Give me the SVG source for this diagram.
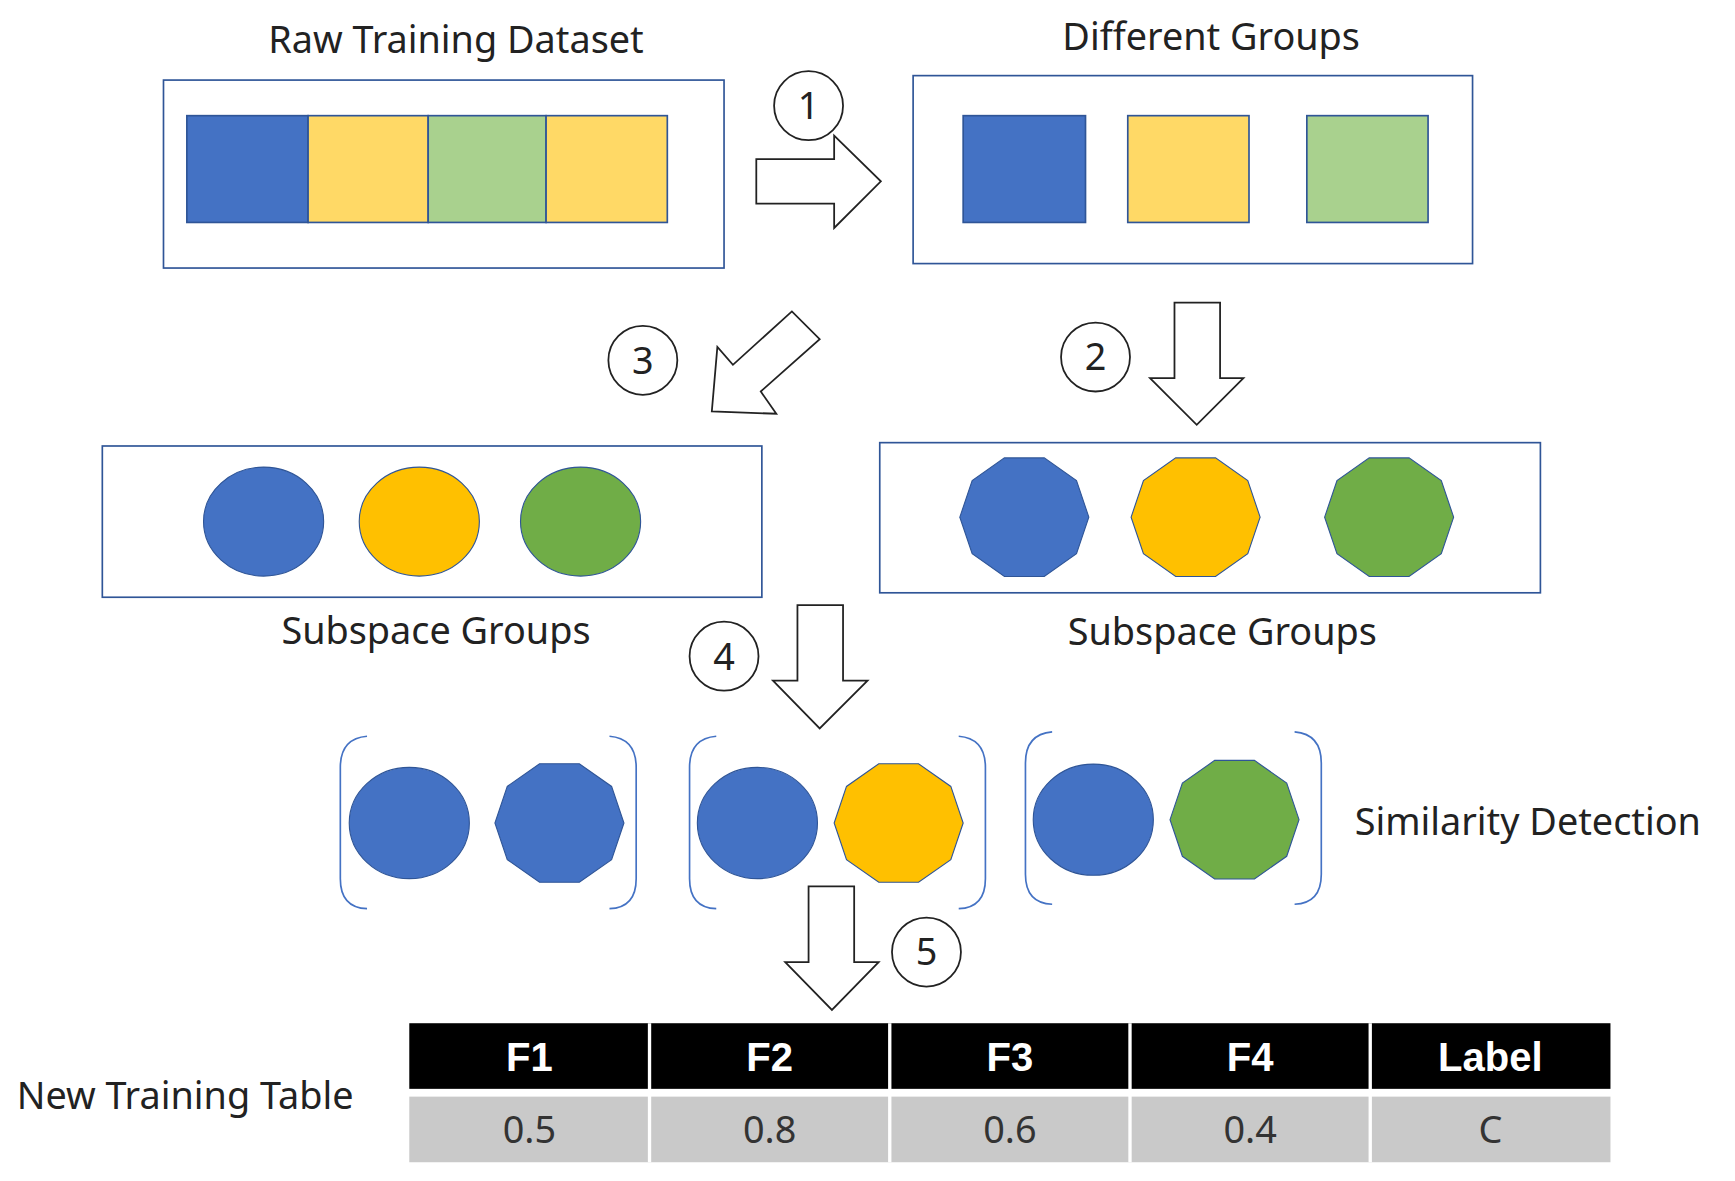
<svg xmlns="http://www.w3.org/2000/svg" xmlns:xlink="http://www.w3.org/1999/xlink" width="1735" height="1181" viewBox="0 0 1735 1181">
<style>
.t{font-family:"Noto Sans","Liberation Sans",sans-serif;font-size:34px;fill:#222}
.box{fill:#fff;stroke:#2F5597;stroke-width:1.5}
.sq{stroke:#2F5597;stroke-width:1.5}
.arr{fill:#fff;stroke:#222;stroke-width:1.6}
.num{fill:#fff;stroke:#222;stroke-width:1.6}
.br{fill:none;stroke:#4472C4;stroke-width:1.5}
.sh{stroke:#2F5597;stroke-width:1}
.hd{font-family:"Liberation Sans",sans-serif;font-size:36px;font-weight:bold;fill:#fff}
.vl{font-family:"Noto Sans","Liberation Sans",sans-serif;font-size:34px;fill:#333}
</style>
<defs>
<polygon id="dec" points="58,0 46.9,32.9 17.9,53.3 -17.9,53.3 -46.9,32.9 -58,0 -46.9,-32.9 -17.9,-53.3 17.9,-53.3 46.9,-32.9"/>
</defs>
<rect width="1735" height="1181" fill="#fff"/>
<g transform="scale(1.1122)">
<g id="raw">
<text class="t" x="410" y="48" text-anchor="middle">Raw Training Dataset</text>
<rect class="box" x="147" y="72" width="504" height="169"/>
<rect class="sq" x="168" y="104" width="109" height="96" fill="#4472C4"/>
<rect class="sq" x="277" y="104" width="108" height="96" fill="#FFD966"/>
<rect class="sq" x="385" y="104" width="106" height="96" fill="#A9D18E"/>
<rect class="sq" x="491" y="104" width="109" height="96" fill="#FFD966"/>
</g>
<g id="groups">
<text class="t" x="1089" y="45" text-anchor="middle">Different Groups</text>
<rect class="box" x="821" y="68" width="503" height="169"/>
<rect class="sq" x="866" y="104" width="110" height="96" fill="#4472C4"/>
<rect class="sq" x="1014" y="104" width="109" height="96" fill="#FFD966"/>
<rect class="sq" x="1175" y="104" width="109" height="96" fill="#A9D18E"/>
</g>
<g id="sub1">
<rect class="box" x="92" y="401" width="593" height="136"/>
<ellipse class="sh" cx="237" cy="469" rx="54" ry="49" fill="#4472C4"/>
<ellipse class="sh" cx="377" cy="469" rx="54" ry="49" fill="#FFC000"/>
<ellipse class="sh" cx="522" cy="469" rx="54" ry="49" fill="#70AD47"/>
<text class="t" x="392" y="579" text-anchor="middle">Subspace Groups</text>
</g>
<g id="sub2">
<rect class="box" x="791" y="398" width="594" height="135"/>
<use href="#dec" class="sh" x="921" y="465" fill="#4472C4"/>
<use href="#dec" class="sh" x="1075" y="465" fill="#FFC000"/>
<use href="#dec" class="sh" x="1249" y="465" fill="#70AD47"/>
<text class="t" x="1099" y="580" text-anchor="middle">Subspace Groups</text>
</g>
<g id="sim">
<path class="br" d="M330,662 Q306,664 306,690 L306,790 Q306,816 330,817"/>
<path class="br" d="M548,662 Q572,664 572,690 L572,790 Q572,816 548,817"/>
<ellipse class="sh" cx="368" cy="740" rx="54" ry="50" fill="#4472C4"/>
<use href="#dec" class="sh" x="503" y="740" fill="#4472C4"/>
<path class="br" d="M644,662 Q620,664 620,690 L620,790 Q620,816 644,817"/>
<path class="br" d="M862,662 Q886,664 886,690 L886,790 Q886,816 862,817"/>
<ellipse class="sh" cx="681" cy="740" rx="54" ry="50" fill="#4472C4"/>
<use href="#dec" class="sh" x="808" y="740" fill="#FFC000"/>
<path class="br" d="M946,658 Q922,660 922,686 L922,786 Q922,812 946,813"/>
<path class="br" d="M1164,658 Q1188,660 1188,686 L1188,786 Q1188,812 1164,813"/>
<ellipse class="sh" cx="983" cy="737" rx="54" ry="50" fill="#4472C4"/>
<use href="#dec" class="sh" x="1110" y="737" fill="#70AD47"/>
<text class="t" x="1218" y="751">Similarity Detection</text>
</g>
<g id="table">
<text class="t" x="15" y="997">New Training Table</text>
<rect x="368" y="920" width="1080" height="59" fill="#000"/>
<rect x="368" y="986" width="1080" height="59" fill="#C9C9C9"/>
<g stroke="#fff" stroke-width="3">
<line x1="584" y1="920" x2="584" y2="1045"/><line x1="800" y1="920" x2="800" y2="1045"/>
<line x1="1016" y1="920" x2="1016" y2="1045"/><line x1="1232" y1="920" x2="1232" y2="1045"/>
</g>
<g class="hd" text-anchor="middle">
<text x="476" y="963">F1</text><text x="692" y="963">F2</text><text x="908" y="963">F3</text><text x="1124" y="963">F4</text><text x="1340" y="963">Label</text>
</g>
<g class="vl" text-anchor="middle">
<text x="476" y="1028">0.5</text><text x="692" y="1028">0.8</text><text x="908" y="1028">0.6</text><text x="1124" y="1028">0.4</text><text x="1340" y="1028">C</text>
</g>
</g>
<g id="connectors">
<polygon class="arr" points="680,143 750,143 750,122 792,163 750,205 750,183 680,183"/>
<polygon class="arr" points="1056,272 1097,272 1097,340 1118,340 1076,382 1034,340 1056,340"/>
<polygon class="arr" points="640,370 645,312 659,328 712,280 737,305 684,352 698,372"/>
<polygon class="arr" points="717,544 758,544 758,612 780,612 737,655 695,612 717,612"/>
<polygon class="arr" points="727,797 768,797 768,865 790,865 748,908 706,865 727,865"/>
</g>
<g id="labels">
<circle class="num" cx="727" cy="95" r="31"/><text class="t" x="727" y="107" text-anchor="middle">1</text>
<circle class="num" cx="985" cy="321" r="31"/><text class="t" x="985" y="333" text-anchor="middle">2</text>
<circle class="num" cx="578" cy="324" r="31"/><text class="t" x="578" y="336" text-anchor="middle">3</text>
<circle class="num" cx="651" cy="590" r="31"/><text class="t" x="651" y="602" text-anchor="middle">4</text>
<circle class="num" cx="833" cy="856" r="31"/><text class="t" x="833" y="868" text-anchor="middle">5</text>
</g>
</g>
</svg>
